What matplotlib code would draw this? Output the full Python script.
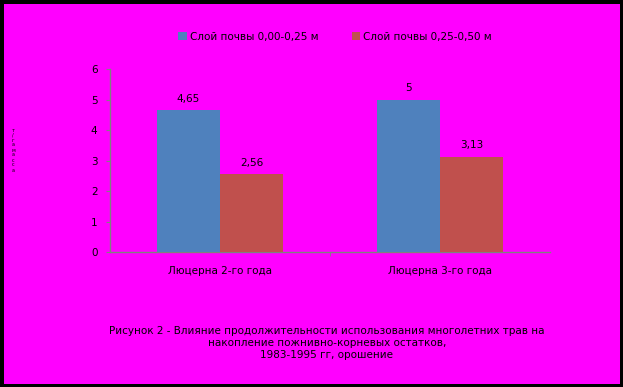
import matplotlib
matplotlib.use("Agg")
import matplotlib.pyplot as plt
import numpy as np

categories = ["Люцерна 2-го года", "Люцерна 3-го года"]
series_names = ["Слой почвы 0,00-0,25 м", "Слой почвы 0,25-0,50 м"]
layer1 = [4.65, 5.0]
layer2 = [2.56, 3.13]
labels1 = ["4,65", "5"]
labels2 = ["2,56", "3,13"]
yticks = [0, 1, 2, 3, 4, 5, 6]
colors = ["#4F81BD", "#C0504D"]
caption = ("Рисунок 2 - Влияние продолжительности использования многолетних трав на\n"
           "накопление пожнивно-корневых остатков,\n"
           "1983-1995 гг, орошение")
ylabel = "т/га масса"

plt.rcParams['font.family'] = ['DejaVu Sans']
W, H = 623, 387
fig = plt.figure(figsize=(W/100, H/100), dpi=100)
fig.patch.set_facecolor("#FF00FF")
fig.patch.set_edgecolor("black")
fig.patch.set_linewidth(5)

left, right, top, bottom = 110, 550, 69, 252
ax = fig.add_axes([left/W, 1-bottom/H, (right-left)/W, (bottom-top)/H])
ax.set_facecolor("#FF00FF")

x = np.arange(len(categories))
bw = 0.286
b1 = ax.bar(x - bw/2, layer1, bw, color=colors[0], label=series_names[0], zorder=3)
b2 = ax.bar(x + bw/2, layer2, bw, color=colors[1], label=series_names[1], zorder=3)
for rect, lab in zip(b1, labels1):
    ax.text(rect.get_x()+rect.get_width()/2, rect.get_height()+0.2, lab,
            ha="center", va="bottom", fontsize=7.5, color="black")
for rect, lab in zip(b2, labels2):
    ax.text(rect.get_x()+rect.get_width()/2, rect.get_height()+0.2, lab,
            ha="center", va="bottom", fontsize=7.5, color="black")

ax.set_xlim(-0.5, 1.5)
ax.set_ylim(0, 6)
ax.set_yticks(yticks)
ax.set_yticklabels([str(t) for t in yticks], fontsize=7.5)
ax.set_xticks(x)
ax.set_xticklabels(categories, fontsize=7.5)
ax.set_xticks([0.5], minor=True)
ax.tick_params(axis="x", which="major", length=0, pad=10)
ax.tick_params(axis="x", which="minor", length=3, color="#808080", direction="out")
ax.tick_params(axis="y", length=3, color="#808080", direction="out", pad=6)
for s in ["top", "right"]:
    ax.spines[s].set_visible(False)
for s in ["left", "bottom"]:
    ax.spines[s].set_color("#808080")
    ax.spines[s].set_linewidth(1)

leg = fig.legend(handles=[b1, b2], labels=series_names, loc="center",
                 bbox_to_anchor=(335/W, 1-37/H), ncol=2, frameon=False, fontsize=7.5,
                 handlelength=0.8, handleheight=0.8, handletextpad=0.3, columnspacing=3.2)

fig.text(13/W, 1-150/H, "\n".join(list(ylabel.replace(" ", ""))), fontsize=3.5,
         ha="center", va="center", linespacing=1.0)

fig.text(327/W, 1-343/H, caption, ha="center", va="center", fontsize=7.5, linespacing=1.2)

fig.savefig("out.png", dpi=100, facecolor=fig.get_facecolor(), edgecolor="black")
